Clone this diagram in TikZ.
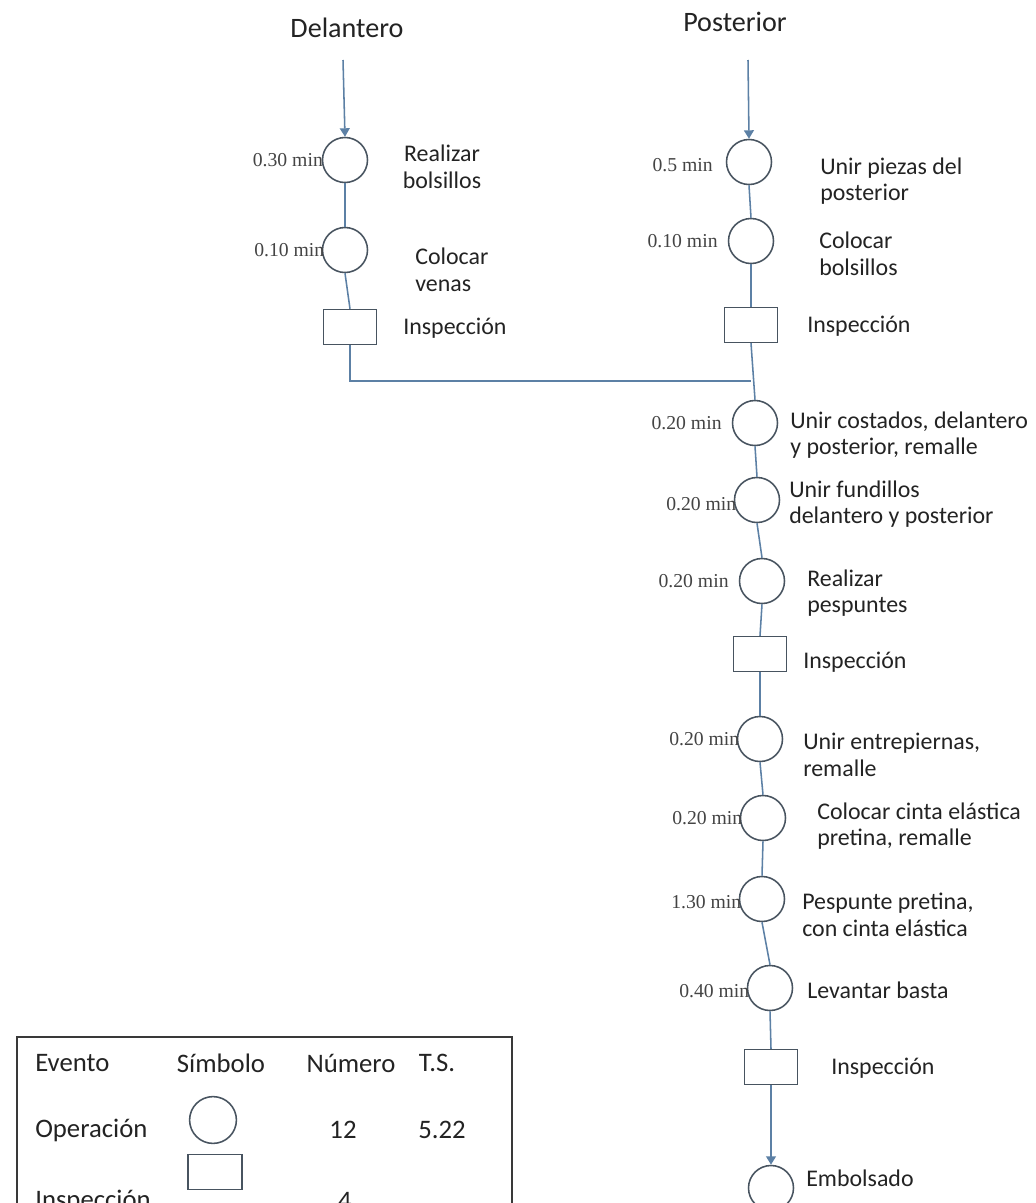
\documentclass[tikz,border=0pt]{standalone}
\usepackage{fontspec}
\setmainfont{Carlito}
\newfontfamily\timesfont{Liberation Serif}
\usetikzlibrary{arrows.meta}
\definecolor{linea}{RGB}{92,128,165}
\definecolor{borde}{RGB}{72,84,96}
\definecolor{texto}{RGB}{35,35,35}

\begin{document}
\begin{tikzpicture}[x=0.025cm,y=-0.025cm,
  oper/.style={draw=borde,line width=1.1pt,circle,minimum size=1.125cm,inner sep=0pt},
  insp/.style={draw=borde,line width=1pt,rectangle,minimum width=1.33cm,minimum height=0.875cm,inner sep=0pt},
  tiempo/.style={font=\timesfont\fontsize{14}{16}\selectfont,text=texto!85,anchor=east,inner sep=0pt},
  desc/.style={font=\fontsize{17}{19}\selectfont,text=texto,anchor=west,align=left,inner sep=0pt},
  titulo/.style={font=\fontsize{20}{24}\selectfont,text=texto,inner sep=0pt},
  leyenda/.style={font=\fontsize{19}{22}\selectfont,text=texto,inner sep=0pt},
  flujo/.style={draw=linea,line width=1.1pt},
  entrada/.style={flujo,-{Triangle[width=7pt,length=6pt]}}]
  \clip (0,0) rectangle (1036,1203);
  \fill [white] (0,0) rectangle (1036,1203);
  \node [titulo] (tdel) at (347,28) {Delantero};
  \node [titulo] (tpos) at (735,22) {Posterior};
  \coordinate (idel) at (343,60);
  \coordinate (ipos) at (748,60);
  \coordinate (union) at (751,381);
  \node [oper] (d1) at (345,160) {};
  \node [oper] (d2) at (345,250) {};
  \node [insp] (dsq) at (350,327) {};
  \node [oper] (p1) at (749,162) {};
  \node [oper] (p2) at (751,241) {};
  \node [insp] (psq) at (751,325) {};
  \node [oper] (c1) at (755,423) {};
  \node [oper] (c2) at (757,500) {};
  \node [oper] (c3) at (762,581) {};
  \node [insp] (sq2) at (760,654) {};
  \node [oper] (c4) at (760,739) {};
  \node [oper] (c5) at (763,818) {};
  \node [oper] (c6) at (762,899) {};
  \node [oper] (c7) at (770,988) {};
  \node [insp] (sq3) at (771,1067) {};
  \node [oper] (emb) at (771,1188) {};
  \draw [entrada] (idel) -- (d1.north);
  \draw [flujo] (d1.south) -- (d2.north);
  \draw [flujo] (d2.south) -- (dsq.north);
  \draw [flujo] (dsq.south) |- (union);
  \draw [entrada] (ipos) -- (p1.north);
  \draw [flujo] (p1.south) -- (p2.north);
  \draw [flujo] (p2.south) -- (psq.north);
  \draw [flujo] (psq.south) -- (c1.north);
  \draw [flujo] (c1.south) -- (c2.north);
  \draw [flujo] (c2.south) -- (c3.north);
  \draw [flujo] (c3.south) -- (sq2.north);
  \draw [flujo] (sq2.south) -- (c4.north);
  \draw [flujo] (c4.south) -- (c5.north);
  \draw [flujo] (c5.south) -- (c6.north);
  \draw [flujo] (c6.south) -- (c7.north);
  \draw [flujo] (c7.south) -- (sq3.north);
  \draw [entrada] (sq3.south) -- (emb.north);
  \node [tiempo] (td1) at ([xshift=1pt]d1.west) {0.30 min};
  \node [tiempo] (td2) at ([xshift=2pt]d2.west) {0.10 min};
  \node [tiempo] (tp1) at ([xshift=-9pt,yshift=-2pt]p1.west) {0.5 min};
  \node [tiempo] (tp2) at ([xshift=-7pt]p2.west) {0.10 min};
  \node [tiempo] (tc1) at ([xshift=-7pt]c1.west) {0.20 min};
  \node [tiempo] (tc2) at ([xshift=2pt,yshift=-3pt]c2.west) {0.20 min};
  \node [tiempo] (tc3) at ([xshift=-7pt]c3.west) {0.20 min};
  \node [tiempo] (tc4) at ([xshift=2pt]c4.west) {0.20 min};
  \node [tiempo] (tc5) at ([xshift=2pt]c5.west) {0.20 min};
  \node [tiempo] (tc6) at ([xshift=2pt,yshift=-2pt]c6.west) {1.30 min};
  \node [tiempo] (tc7) at ([xshift=2pt,yshift=-2pt]c7.west) {0.40 min};
  \node [desc,align=center,anchor=center] (ed1) at (442,167) {Realizar\\bolsillos};
  \node [desc] (ed2) at (415,270) {Colocar\\venas};
  \node [desc] (edsq) at (403,328) {Inspección};
  \node [desc] (ep1) at (820,181) {Unir piezas del\\posterior};
  \node [desc] (ep2) at (819,254) {Colocar\\bolsillos};
  \node [desc] (epsq) at (807,326) {Inspección};
  \node [desc] (ec1) at (790,435) {Unir costados, delantero\\y posterior, remalle};
  \node [desc] (ec2) at (789,504) {Unir fundillos\\delantero y posterior};
  \node [desc] (ec3) at (807,593) {Realizar\\pespuntes};
  \node [desc] (esq2) at (803,662) {Inspección};
  \node [desc] (ec4) at (803,755) {Unir entrepiernas,\\remalle};
  \node [desc] (ec5) at (817,826) {Colocar cinta elástica\\pretina, remalle};
  \node [desc] (ec6) at (802,915) {Pespunte pretina,\\con cinta elástica};
  \node [desc] (ec7) at (807,990) {Levantar basta};
  \node [desc] (esq3) at (831,1068) {Inspección};
  \node [desc] (eemb) at (806,1178) {Embolsado};
  \draw [texto!90,line width=1.2pt] (17,1037) rectangle (512,1215);
  \node [leyenda,anchor=west] (lev) at (35,1063) {Evento};
  \node [leyenda] (lsi) at (221,1063) {Símbolo};
  \node [leyenda] (lnu) at (351,1063) {Número};
  \node [leyenda] (lts) at (437,1063) {T.S.};
  \node [oper,minimum size=1.17cm] (lcir) at (213,1120) {};
  \node [insp,minimum width=1.35cm] (lrec) at (215,1172) {};
  \node [leyenda,anchor=west] (lop) at (35,1130) {Operación};
  \node [leyenda] (lop12) at (343,1130) {12};
  \node [leyenda] (lopts) at (442,1130) {5.22};
  \node [leyenda,anchor=west] (lin) at (35,1201) {Inspección};
  \node [leyenda] (lin4) at (345,1201) {4};
\end{tikzpicture}
\end{document}
